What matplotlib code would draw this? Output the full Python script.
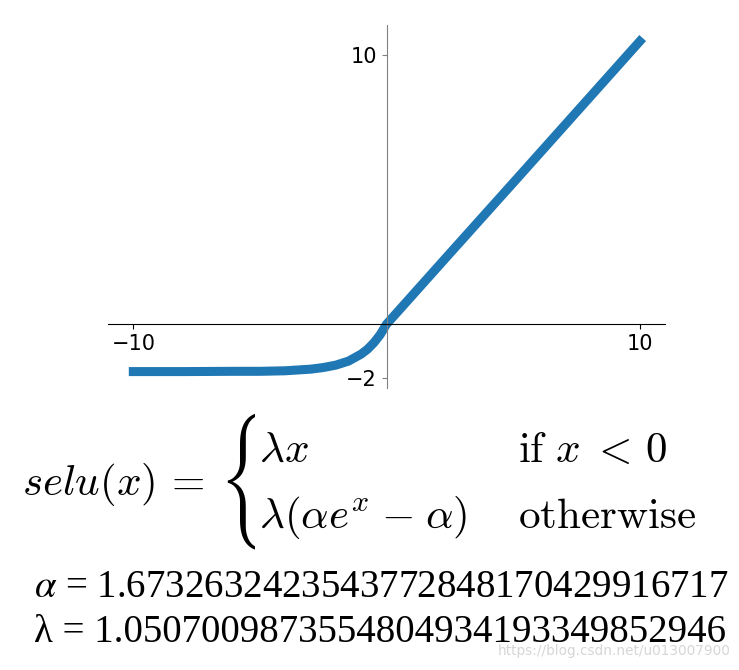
import matplotlib
matplotlib.use('Agg')
import matplotlib.pyplot as plt
from matplotlib.transforms import Bbox, TransformedBbox

# selu curve, values
x_vals = [-10, -8, -6, -5, -4, -3.5, -3, -2.5, -2, -1.5, -1, -0.75, -0.5, -0.25, 0, 2.5, 5, 7.5, 10]
y_vals = [-1.76, -1.76, -1.75, -1.75, -1.73, -1.70, -1.67, -1.61, -1.52, -1.37, -1.11, -0.93, -0.69, -0.39,
          0, 2.63, 5.25, 7.88, 10.51]
x_ticks = [-10, 10]
y_ticks = [-2, 10]

alpha_txt = '1.6732632423543772848170429916717'
lambda_txt = '1.0507009873554804934193349852946'

W, H = 739, 670
fig = plt.figure(figsize=(W / 100, H / 100), dpi=100)

def fx(px):
    return px / W

def fy(py):
    return 1 - py / H

ax = fig.add_axes([fx(108), fy(388), fx(665) - fx(108), fy(25) - fy(388)])
ax.plot(x_vals, y_vals, color='#1f77b4', lw=6.5)
ax.set_xlim(-11, 11)
ax.set_ylim(-2.37, 11.12)
ax.spines['left'].set_position(('data', 0))
ax.spines['bottom'].set_position(('data', 0))
ax.spines['top'].set_visible(False)
ax.spines['right'].set_visible(False)
ax.spines['left'].set_color('gray')
ax.set_xticks(x_ticks)
ax.set_yticks(y_ticks)
ax.tick_params(labelsize=15)
ax.tick_params(axis='y', color='gray')

# formula
fs = 31
fig.text(fx(22), fy(495), r'$selu(x)\,=$', fontsize=fs, va='baseline', math_fontfamily='cm')

# big brace: \left\{ around a tall stack, clipped so only the brace shows
def g(a, b):
    return r'\genfrac{}{}{0}{}{' + a + '}{' + b + '}'

q = r'\quad\lambda'
stack = g(g(g(q, q), g(q, q)), g(g(q, q), g(q, q)))
brace = fig.text(fx(219), fy(481), r'$\left\{' + stack + r'\right.$',
                 fontsize=33.5, va='center', math_fontfamily='stix')
brace.set_clip_box(TransformedBbox(Bbox([[fx(205), fy(580)], [fx(255), fy(385)]]), fig.transFigure))
brace.set_clip_on(True)

fig.text(fx(259), fy(462), r'$\lambda x$', fontsize=fs, va='baseline', math_fontfamily='cm')
fig.text(fx(259), fy(528), r'$\lambda(\alpha e^x \;{-}\; \alpha)$', fontsize=fs, va='baseline',
         math_fontfamily='cm')
fig.text(fx(518), fy(462), r'$\mathrm{if}\ x \;<\, 0$', fontsize=fs, va='baseline', math_fontfamily='cm')
fig.text(fx(518), fy(528), r'$\mathrm{otherwise}$', fontsize=fs, va='baseline', math_fontfamily='cm')

# constants
fig.text(fx(34), fy(597), r'$\alpha$ = ' + alpha_txt, fontsize=28, family='Liberation Serif',
         va='baseline', math_fontfamily='stix')
fig.text(fx(34), fy(642), 'λ = ' + lambda_txt, fontsize=28, family='Liberation Serif', va='baseline')

fig.text(fx(731), fy(651), 'https://blog.csdn.net/u013007900', fontsize=9.8, color='#d6d6d6',
         ha='right', va='center')

fig.savefig('out.png', dpi=100)
